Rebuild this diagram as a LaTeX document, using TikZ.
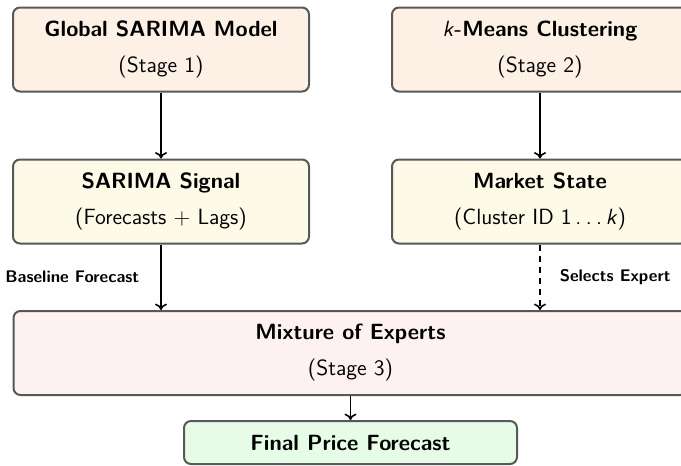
\documentclass[tikz,border=0pt]{standalone}
\usetikzlibrary{arrows.meta}

\definecolor{stagefill}{RGB}{253,240,229}
\definecolor{signalfill}{RGB}{253,250,232}
\definecolor{moefill}{RGB}{253,241,241}
\definecolor{finalfill}{RGB}{231,252,231}
\definecolor{boxline}{RGB}{88,88,88}

\tikzset{
  box/.style={draw=boxline, line width=1pt, rounded corners=3.5pt,
    align=center, inner sep=0pt,
    font=\fontsize{11}{13.6}\selectfont\sffamily},
  colbox/.style={box, minimum width=148pt, minimum height=42pt},
  flow/.style={-{To[length=3.2pt,width=6pt]}, line width=0.8pt, black},
  note/.style={font=\fontsize{8.4}{10}\selectfont\sffamily\bfseries, inner sep=0pt}
}

\begin{document}
\begin{tikzpicture}[x=0.5pt, y=-0.5pt]
  \clip (0,0) rectangle (681,466);
  \fill[white] (0,0) rectangle (681,466);

  % stage boxes
  \node[colbox, fill=stagefill] (sarima) at (161,49.5)
    {\textbf{Global SARIMA Model}\\[4.4pt](Stage 1)};
  \node[colbox, fill=stagefill] (kmeans) at (540,49.5)
    {\textsl{k}\textbf{-Means Clustering}\\[4.4pt](Stage 2)};

  % intermediate outputs
  \node[colbox, fill=signalfill] (signal) at (161,201.5)
    {\textbf{SARIMA Signal}\\[4.4pt](Forecasts + Lags)};
  \node[colbox, fill=signalfill] (state) at (540,201.5)
    {\textbf{Market State}\\[4.4pt](Cluster ID 1\,.\kern2.2pt.\kern2.2pt.\,\textsl{k})};

  % combination stage
  \node[box, fill=moefill, minimum width=337pt, minimum height=42pt] (moe) at (350.5,353)
    {\textbf{Mixture of Experts}\\[4.4pt](Stage 3)};

  % result
  \node[box, fill=finalfill, minimum width=166.5pt, minimum height=21.5pt] (final) at (350.5,442.5)
    {\textbf{Final Price Forecast}};

  % connectors
  \draw[flow] (sarima) -- (signal);
  \draw[flow] (kmeans) -- (state);
  \draw[flow] (signal) -- node[note, left=10.5pt] {Baseline Forecast} (signal |- moe.north);
  \draw[flow, dash pattern=on 3pt off 2.5pt] (state) -- node[note, right=9.5pt] {Selects Expert} (state |- moe.north);
  \draw[flow] (moe) -- (final);
\end{tikzpicture}
\end{document}
